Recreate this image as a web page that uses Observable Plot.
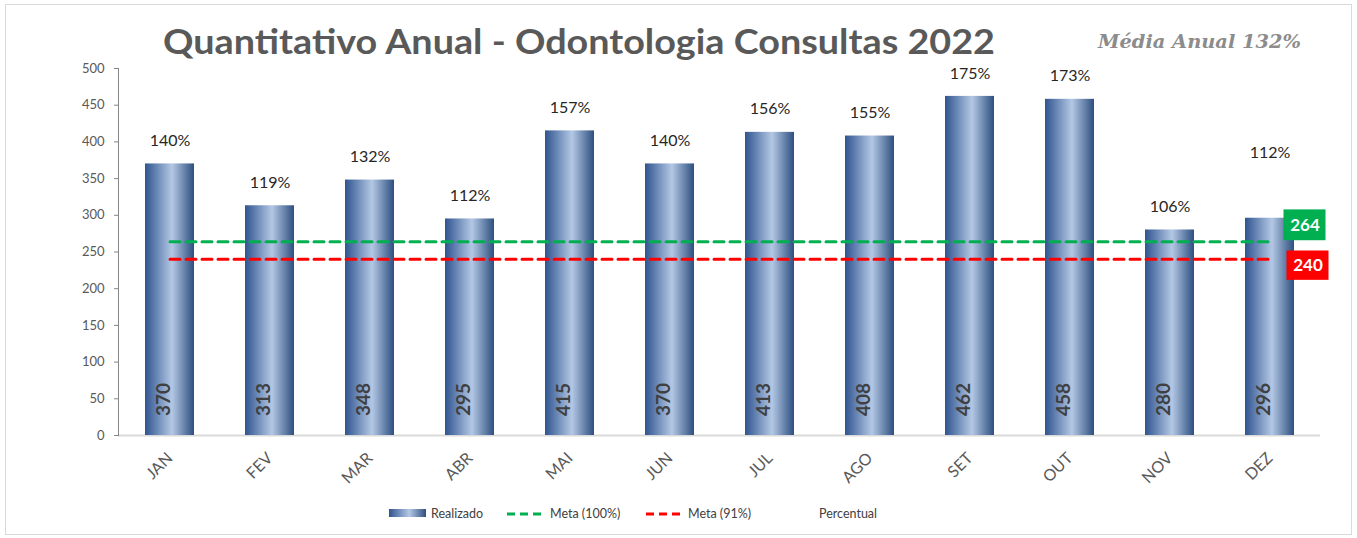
<!DOCTYPE html>
<html><head><meta charset="utf-8">
<script src="https://cdn.jsdelivr.net/npm/d3@7"></script>
<script src="https://cdn.jsdelivr.net/npm/@observablehq/plot@0.6"></script>
<style>
body{margin:0;background:#fff;}
#wrap{position:relative;width:1357px;height:538px;overflow:hidden;font-family:Lato,"Liberation Sans",sans-serif;}
#frame{position:absolute;left:5px;top:4px;width:1347px;height:531px;border:1px solid #d9d9d9;box-sizing:border-box;}
#chart{position:absolute;left:0;top:0;}
#overlay{position:absolute;left:0;top:0;pointer-events:none;}
</style></head>
<body>
<div id="wrap">
  <div id="frame"></div>
  <div id="chart"></div>
  <svg id="overlay" width="1357" height="538">
    <defs>
      <linearGradient id="legGrad" x1="0" x2="1" y1="0" y2="0">
        <stop offset="0" stop-color="#2f5490"/><stop offset="0.55" stop-color="#b4c8e4"/><stop offset="1" stop-color="#2d4f80"/>
      </linearGradient>
    </defs>
    <text x="163" y="54" textLength="832" lengthAdjust="spacingAndGlyphs" font-family="Lato, 'Liberation Sans', sans-serif" font-weight="bold" font-size="35" fill="#595959">Quantitativo Anual - Odontologia Consultas 2022</text>
    <text x="1098" y="48" textLength="203" lengthAdjust="spacingAndGlyphs" font-family="'DejaVu Serif', serif" font-weight="bold" font-style="italic" font-size="18" fill="#8c8c8c">Média Anual 132%</text>
    <g font-family="Lato, 'Liberation Sans', sans-serif" font-size="12.5" fill="#404040">
      <rect x="389" y="509" width="37" height="8" fill="url(#legGrad)"/>
      <text x="431" y="518">Realizado</text>
      <line x1="507" x2="542" y1="514" y2="514" stroke="#00b050" stroke-width="3" stroke-dasharray="8,5"/>
      <text x="550" y="518">Meta (100%)</text>
      <line x1="646" x2="682" y1="514" y2="514" stroke="#ff0000" stroke-width="3" stroke-dasharray="8,5"/>
      <text x="688" y="518">Meta (91%)</text>
      <text x="819" y="518">Percentual</text>
    </g>
  </svg>
</div>
<script>
const months = ["JAN","FEV","MAR","ABR","MAI","JUN","JUL","AGO","SET","OUT","NOV","DEZ"];
const realizado = [370,313,348,295,415,370,413,408,462,458,280,296];
const percentual = [140,119,132,112,157,140,156,155,175,173,106,112];
const metaCem = 264;
const metaNoventa = 240;
const yTicks = [0,50,100,150,200,250,300,350,400,450,500];

const data = months.map((m,i)=>({m, v: realizado[i], p: percentual[i]}));
const font = "Lato, 'Liberation Sans', sans-serif";

const chart = Plot.plot({
  width: 1357, height: 538,
  marginLeft: 118, marginRight: 37, marginTop: 68, marginBottom: 103,
  x: {domain: months, paddingInner: 0.51, paddingOuter: 0.255, label: null},
  y: {domain: [0,500], label: null},
  style: {background: "transparent", fontFamily: font},
  marks: [
    Plot.axisY({ticks: yTicks, tickSize: 4, tickPadding: 10, fontSize: 13, color: "#595959", stroke: "#868686"}),
    Plot.axisX({tickRotate: -45, tickSize: 0, tickPadding: 20, fontSize: 16, color: "#595959"}),
    Plot.ruleY([0], {stroke: "#d9d9d9", strokeWidth: 2}),
    Plot.frame({anchor: "left", stroke: "#868686"}),
    Plot.barY(data, {x: "m", y: "v", fill: "url(#barGrad)"}),
    Plot.text(data, {x: "m", frameAnchor: "bottom", dy: -36, rotate: -90, text: d => String(d.v), fontSize: 19, fontWeight: "bold", fill: "#404040"}),
    Plot.text(data.filter(d => d.m !== "DEZ"), {x: "m", y: "v", dy: -23, text: d => d.p + "%", fontSize: 16, fill: "#262626"}),
    Plot.text(data.filter(d => d.m === "DEZ"), {x: "m", y: "v", dy: -65, text: d => d.p + "%", fontSize: 16, fill: "#262626"}),
    Plot.lineY(months, {x: d => d, y: () => metaCem, stroke: "#00b050", strokeWidth: 3, strokeDasharray: "10,6"}),
    Plot.lineY(months, {x: d => d, y: () => metaNoventa, stroke: "#ff0000", strokeWidth: 3, strokeDasharray: "10,6"}),
    Plot.barY(["DEZ"], {x: d => d, y1: () => metaCem, y2: () => metaCem + 42, dx: 35, dy: -1, insetLeft: 3.5, insetRight: 3.5, fill: "#00b050"}),
    Plot.text(["DEZ"], {x: d => d, y: () => metaCem, dx: 35, dy: -16, text: () => String(metaCem), fill: "white", fontWeight: "bold", fontSize: 17}),
    Plot.barY(["DEZ"], {x: d => d, y1: () => metaNoventa, y2: () => metaNoventa + 40, dx: 38, dy: 21, insetLeft: 3.5, insetRight: 3.5, fill: "#ff0000"}),
    Plot.text(["DEZ"], {x: d => d, y: () => metaNoventa, dx: 38, dy: 6, text: () => String(metaNoventa), fill: "white", fontWeight: "bold", fontSize: 17})
  ]
});

d3.select(chart).insert("defs", ":first-child").html(
  `<linearGradient id="barGrad" x1="0" x2="1" y1="0" y2="0">
     <stop offset="0" stop-color="#2f5490"/>
     <stop offset="0.55" stop-color="#b4c8e4"/>
     <stop offset="1" stop-color="#2d4f80"/>
   </linearGradient>`);

document.getElementById("chart").appendChild(chart);
</script>
</body></html>
